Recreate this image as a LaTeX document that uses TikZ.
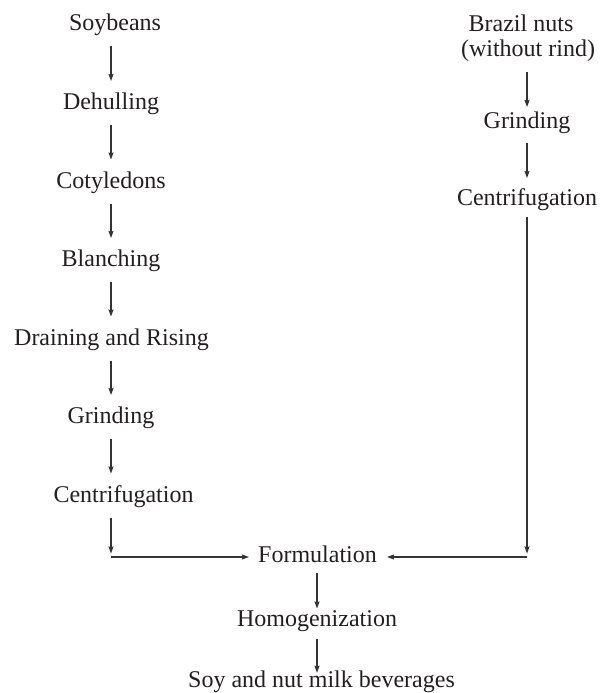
\documentclass[tikz,border=0pt]{standalone}
\usepackage{fontspec}
\setmainfont{Liberation Serif}
\usetikzlibrary{arrows.meta,calc}
\definecolor{ink}{HTML}{231F20}
\definecolor{wire}{HTML}{333333}
\begin{document}
\begin{tikzpicture}[x=1pt,y=-1pt,
  txt/.style={font=\fontsize{24}{25}\selectfont, inner sep=0pt, anchor=base, text=ink},
  arr/.style={-{Stealth[length=7pt,width=5pt,inset=0.8pt]}, line width=1.2pt, draw=wire},
  plain/.style={line width=1.2pt, draw=wire}]
\useasboundingbox (0,0) rectangle (606,693);
% columns
\coordinate (L) at (111,0);
\coordinate (R) at (527,0);
\coordinate (C) at (317,0);
% left column
\node[txt] (s1) at (115,31) {Soybeans};
\node[txt] (s2) at (111,109.5) {Dehulling};
\node[txt] (s3) at (111,188) {Cotyledons};
\node[txt] (s4) at (111,266.5) {Blanching};
\node[txt] (s5) at (111.5,345) {Draining and Rising};
\node[txt] (s6) at (111,423.5) {Grinding};
\node[txt] (s7) at (123.5,502) {Centrifugation};
% right column
\node[txt] (r1) at (521,31.7) {Brazil nuts};
\node[txt] (r1b) at (528,56.5) {(without rind)};
\node[txt] (r2) at (527,128.3) {Grinding};
\node[txt] (r3) at (527,205) {Centrifugation};
% centre
\node[txt] (f) at (317.5,562) {Formulation};
\node[txt] (h) at (317,626.5) {Homogenization};
\node[txt] (p) at (321.5,687.3) {Soy and nut milk beverages};
\coordinate (LC) at (111,557);
\coordinate (RC) at (527,557);
% left arrows
\foreach \a/\b in {s1/s2,s2/s3,s3/s4,s4/s5,s5/s6,s6/s7}
  \draw[arr] ([yshift=-15.5pt]\a.base -| L) -- ([yshift=28.5pt]\b.base -| L);
\draw[arr] ([yshift=-15.5pt]s7.base -| L) -- ([yshift=3.5pt]LC);
\draw[arr] (LC) -- ($(f.west |- LC)+(-9,0)$);
% right arrows
\draw[arr] ([yshift=-15.5pt]r1b.base -| R) -- ([yshift=21.3pt]r2.base -| R);
\draw[arr] ([yshift=-15pt]r2.base -| R) -- ([yshift=27pt]r3.base -| R);
\draw[arr] ([yshift=-12pt]r3.base -| R) -- ([yshift=3.5pt]RC);
\draw[arr] (RC) -- ($(f.east |- RC)+(10,0)$);
% centre arrows
\draw[arr] ([yshift=-11pt]f.base -| C) -- ([yshift=18pt]h.base -| C);
\draw[arr] ([yshift=-12.5pt]h.base -| C) -- ([yshift=14.5pt]p.base -| C);
\end{tikzpicture}
\end{document}
